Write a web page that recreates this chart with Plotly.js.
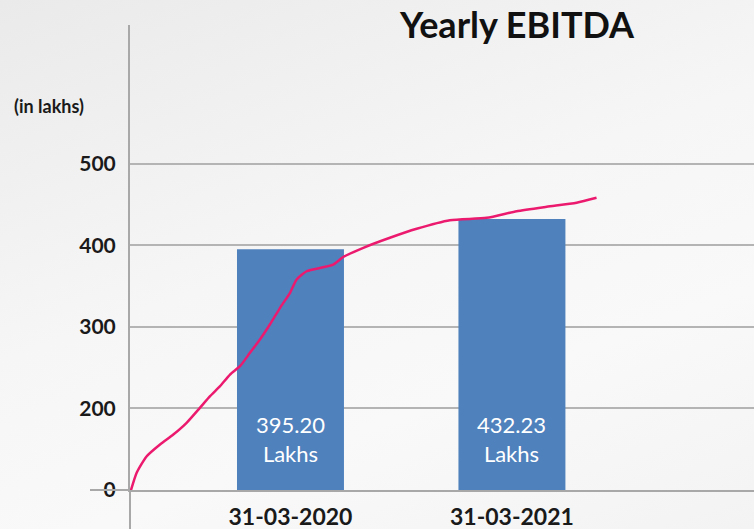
<!DOCTYPE html>
<html>
<head>
<meta charset="utf-8">
<script src="https://cdn.plot.ly/plotly-3.0.1.min.js"></script>
<style>
  html, body { margin: 0; padding: 0; }
  #chart {
    width: 754px; height: 529px;
    background: linear-gradient(160deg, #eaeaea 0%, #f6f6f6 45%, #f9f9f9 70%, #f3f3f3 100%);
  }
</style>
</head>
<body>
<div id="chart"></div>
<script>
// categories and bar values (lakhs)
const years = ["31-03-2020", "31-03-2021"];
const ebitda = [395.20, 432.23];

// hand drawn trend line (x: 0 = first bar, 1 = second bar)
const trendX = [-0.721, -0.694, -0.649, -0.589, -0.529, -0.469, -0.409, -0.363, -0.318, -0.273,
                -0.228, -0.183, -0.138, -0.093, -0.047, -0.002, 0.028, 0.073, 0.148, 0.193,
                0.238, 0.329, 0.449, 0.570, 0.720, 0.886, 1.021, 1.157, 1.292, 1.382];
const trendY = [99, 121.4, 141.4, 155.8, 168.0, 182.4, 200.7, 215.0, 227.2, 241.5,
                251.7, 268.1, 284.4, 302.8, 323.3, 341.7, 358.0, 368.1, 373.0, 376.3,
                385.5, 396.8, 409.1, 420.1, 430.6, 433.6, 441.7, 447.1, 452.0, 458.1];

// y axis ticks as printed on the chart
const tickVals = [100, 200, 300, 400, 500];
const tickText = ["0", "200", "300", "400", "500"];

const font = "Lato, 'Open Sans', sans-serif";
const baseVal = 100;

let xIdx = years.map(function(d, i) { return i; });

let bars = {
    x: xIdx,
    y: ebitda.map(function(v) { return v - baseVal; }),
    base: baseVal,
    type: "bar",
    width: 0.483,
    marker: {color: "#4f81bd"},
    hoverinfo: "skip",
};

let trend = {
    x: trendX,
    y: trendY,
    type: "scatter",
    mode: "lines",
    line: {color: "#ec1a6e", width: 2.5, shape: "spline", smoothing: 0.6},
    hoverinfo: "skip",
};

let barLabels = ebitda.map(function(v, i) {
    return {
        x: i, y: 163, xref: "x", yref: "y",
        text: v.toFixed(2) + "<br>Lakhs",
        showarrow: false,
        font: {family: font, size: 22, color: "#ffffff"},
        yanchor: "middle",
    };
});

let layout = {
    width: 754,
    height: 529,
    paper_bgcolor: "rgba(0,0,0,0)",
    plot_bgcolor: "rgba(0,0,0,0)",
    showlegend: false,
    margin: {l: 130, r: 0, t: 25, b: 39},
    title: {
        text: "<b>Yearly EBITDA</b>",
        font: {family: font, size: 36, color: "#111111"},
        xref: "container", yref: "container",
        x: 517 / 754, xanchor: "center",
        y: 1 - 25 / 529, yanchor: "middle",
    },
    xaxis: {
        range: [-0.7246, 2.093],
        tickvals: xIdx,
        ticktext: years.map(function(d) { return "<b>" + d + "</b>"; }),
        tickfont: {family: font, size: 23, color: "#1a1a1a"},
        showgrid: false,
        zeroline: false,
        showline: true,
        linecolor: "#a8a8a8",
        linewidth: 2,
        ticks: "",
        ticklabelstandoff: 5,
        fixedrange: true,
    },
    yaxis: {
        range: [100, 669.9],
        tickvals: tickVals,
        ticktext: tickText.map(function(t) { return "<b>" + t + "</b>"; }),
        tickfont: {family: font, size: 21, color: "#1a1a1a"},
        showgrid: true,
        gridcolor: "#b4b4b4",
        gridwidth: 2,
        zeroline: false,
        showline: true,
        linecolor: "#a8a8a8",
        linewidth: 2,
        ticks: "",
        ticklabelstandoff: 8,
        fixedrange: true,
    },
    shapes: [
        // axis line continues below the baseline
        {type: "line", xref: "paper", yref: "paper", x0: 0, x1: 0, y0: 0, y1: -39 / 465,
         line: {color: "#a8a8a8", width: 2}},
        // dash in front of the "0" label
        {type: "line", xref: "paper", yref: "paper", x0: -40 / 624, x1: 0, y0: 0, y1: 0,
         line: {color: "#a8a8a8", width: 2}},
    ],
    annotations: barLabels.concat([
        {
            xref: "paper", yref: "paper",
            x: -81.5 / 624, y: (490 - 106) / 465,
            text: "<b>(in lakhs)</b>",
            showarrow: false,
            font: {family: font, size: 18, color: "#1a1a1a"},
            xanchor: "center", yanchor: "middle",
        },
    ]),
};

Plotly.newPlot("chart", [bars, trend], layout, {staticPlot: true});
</script>
</body>
</html>
